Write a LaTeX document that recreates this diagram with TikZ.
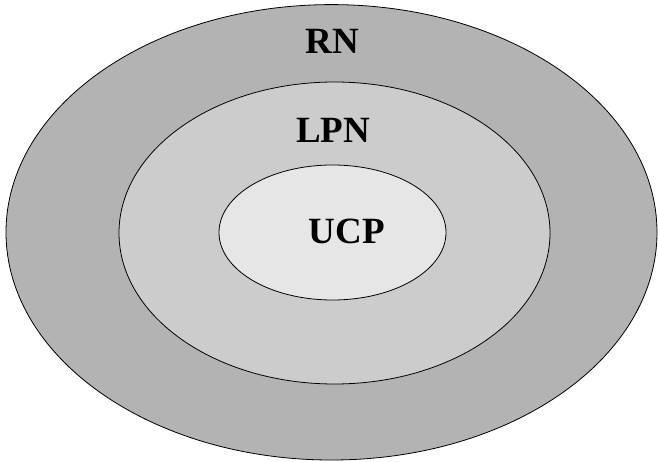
\documentclass[tikz,border=0pt]{standalone}
\usepackage{fontspec}
\setmainfont{Liberation Serif}
\definecolor{ringouter}{HTML}{B3B3B3}
\definecolor{ringmid}{HTML}{CCCCCC}
\definecolor{ringinner}{HTML}{E6E6E6}
\tikzset{
  ring/.style={draw=black, line width=0.8pt},
  lbl/.style={inner sep=0pt, anchor=center, font=\bfseries\fontsize{37}{37}\selectfont}
}
\begin{document}
\begin{tikzpicture}[x=1pt, y=-1pt]
\useasboundingbox (0,0) rectangle (658,462);
\fill[white] (0,0) rectangle (658,462);
\filldraw[ring, fill=ringouter] (331.5,232.3) ellipse [x radius=325.5, y radius=227.7];
\filldraw[ring, fill=ringmid] (334.5,233) ellipse [x radius=215.5, y radius=151];
\filldraw[ring, fill=ringinner] (332.5,232.5) ellipse [x radius=113.5, y radius=67.5];
\node[lbl] (rn) at (332.5,41) {RN};
\node[lbl] (lpn) at (333,130.5) {LPN};
\node[lbl] (ucp) at (347,231) {UCP};
\end{tikzpicture}
\end{document}
